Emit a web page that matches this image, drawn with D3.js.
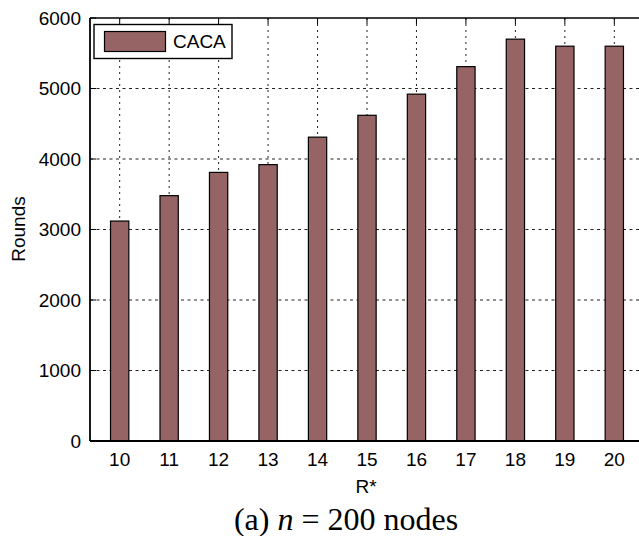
<!DOCTYPE html>
<html>
<head>
<meta charset="utf-8">
<script src="https://cdn.jsdelivr.net/npm/d3@7"></script>
<style>
  body { margin: 0; background: #fff; }
  svg { display: block; }
  text { font-family: "Liberation Sans", Arial, sans-serif; fill: #000; }
</style>
</head>
<body>
<div id="chart"></div>
<script>
// data
const rValues = [10, 11, 12, 13, 14, 15, 16, 17, 18, 19, 20];
const rounds = [3120, 3480, 3810, 3920, 4310, 4620, 4920, 5310, 5700, 5600, 5600];
const yTicks = [0, 1000, 2000, 3000, 4000, 5000, 6000];
const seriesName = "CACA";

const width = 639, height = 536;
const margin = { top: 18, left: 90, bottom: 441, right: 644 };
const barColor = "#966464";

const svg = d3.select("#chart").append("svg")
  .attr("width", width)
  .attr("height", height);

// scales
const x = d3.scaleLinear().domain([9.4, 20.6]).range([margin.left, margin.right]);
const y = d3.scaleLinear().domain([0, 6000]).range([margin.bottom, margin.top]);
const barW = x(10.37) - x(10);

// grid lines
const grid = svg.append("g");
grid.selectAll(".hg")
  .data(yTicks.filter(d => d > 0 && d < 6000))
  .enter().append("line")
  .attr("x1", margin.left).attr("x2", margin.right)
  .attr("y1", d => y(d)).attr("y2", d => y(d))
  .attr("stroke", "#222").attr("stroke-width", 1)
  .attr("stroke-dasharray", "3,3.5");
grid.selectAll(".vg")
  .data(rValues)
  .enter().append("line")
  .attr("x1", d => x(d)).attr("x2", d => x(d))
  .attr("y1", margin.top).attr("y2", margin.bottom)
  .attr("stroke", "#222").attr("stroke-width", 1)
  .attr("stroke-dasharray", "2,4");

// bars
svg.selectAll(".bar")
  .data(rValues)
  .enter().append("rect")
  .attr("x", d => x(d) - barW / 2)
  .attr("y", (d, i) => y(rounds[i]))
  .attr("width", barW)
  .attr("height", (d, i) => y(0) - y(rounds[i]))
  .attr("fill", barColor)
  .attr("stroke", "#000")
  .attr("stroke-width", 1.2);

// axes box
svg.append("line")
  .attr("x1", margin.left).attr("x2", margin.right)
  .attr("y1", margin.top).attr("y2", margin.top)
  .attr("stroke", "#000").attr("stroke-width", 1.6);
svg.append("line")
  .attr("x1", margin.left).attr("x2", margin.right)
  .attr("y1", margin.bottom).attr("y2", margin.bottom)
  .attr("stroke", "#000").attr("stroke-width", 1.8);
svg.append("line")
  .attr("x1", margin.left).attr("x2", margin.left)
  .attr("y1", margin.top).attr("y2", margin.bottom)
  .attr("stroke", "#000").attr("stroke-width", 1.8);

// inward ticks on top axis
svg.selectAll(".tt")
  .data(rValues)
  .enter().append("line")
  .attr("x1", d => x(d)).attr("x2", d => x(d))
  .attr("y1", margin.top).attr("y2", margin.top + 6)
  .attr("stroke", "#000").attr("stroke-width", 1);
svg.selectAll(".yt")
  .data(yTicks)
  .enter().append("line")
  .attr("x1", margin.left).attr("x2", margin.left + 6)
  .attr("y1", d => y(d)).attr("y2", d => y(d))
  .attr("stroke", "#000").attr("stroke-width", 1);

// tick labels
svg.selectAll(".yl")
  .data(yTicks)
  .enter().append("text")
  .attr("x", margin.left - 9)
  .attr("y", d => y(d))
  .attr("dy", "0.36em")
  .attr("text-anchor", "end")
  .style("font-size", "19px")
  .text(d => d);
svg.selectAll(".xl")
  .data(rValues)
  .enter().append("text")
  .attr("x", d => x(d))
  .attr("y", 466)
  .attr("text-anchor", "middle")
  .style("font-size", "19px")
  .text(d => d);

// axis titles
svg.append("text")
  .attr("x", 366).attr("y", 493)
  .attr("text-anchor", "middle")
  .style("font-size", "19px")
  .text("R*");
svg.append("text")
  .attr("transform", "translate(25,229) rotate(-90)")
  .attr("text-anchor", "middle")
  .style("font-size", "19px")
  .text("Rounds");

// legend
const lg = svg.append("g");
lg.append("rect")
  .attr("x", 94).attr("y", 24.5).attr("width", 138).attr("height", 34)
  .attr("fill", "#fff").attr("stroke", "#000").attr("stroke-width", 1.4);
lg.append("rect")
  .attr("x", 104.5).attr("y", 31.5).attr("width", 61).attr("height", 20)
  .attr("fill", barColor).attr("stroke", "#000").attr("stroke-width", 1.2);
lg.append("text")
  .attr("x", 173).attr("y", 41.5)
  .attr("dy", "0.36em")
  .style("font-size", "19px")
  .text(seriesName);

// caption
const cap = svg.append("text")
  .attr("x", 346).attr("y", 530)
  .attr("text-anchor", "middle")
  .style("font-family", "'Liberation Serif', 'Times New Roman', serif")
  .style("font-size", "32px");
cap.append("tspan").text("(a) ");
cap.append("tspan").style("font-style", "italic").text("n");
cap.append("tspan").text(" = 200 nodes");
</script>
</body>
</html>
